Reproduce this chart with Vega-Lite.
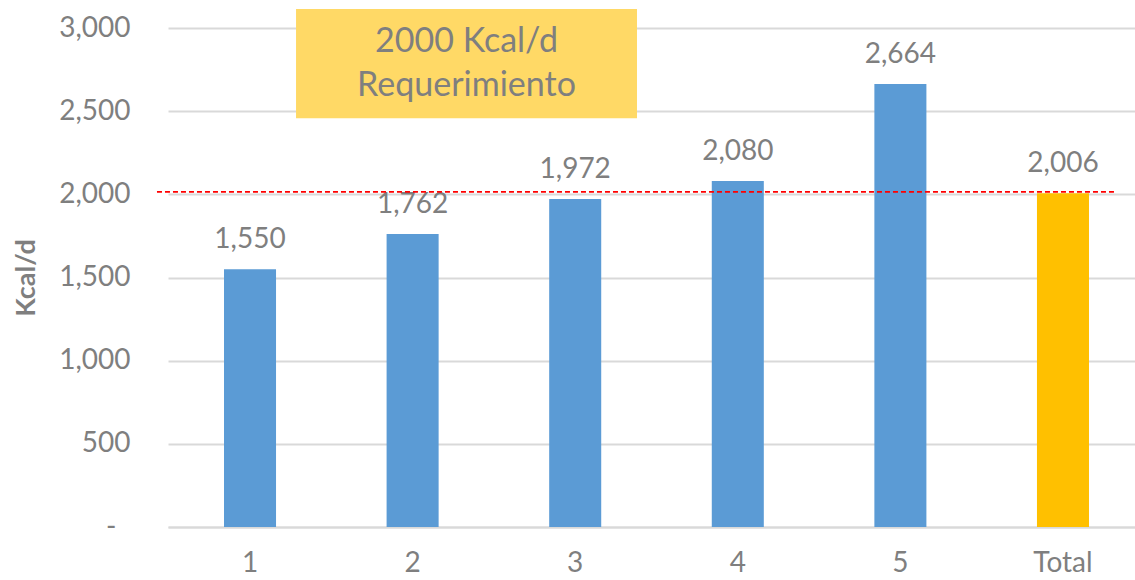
{
  "$schema": "https://vega.github.io/schema/vega-lite/v6.json",
  "autosize": {"type": "none"},
  "width": 967,
  "height": 499,
  "padding": {"left": 168, "top": 28, "right": 0, "bottom": 53},
  "background": "white",
  "config": {
    "view": {"stroke": null},
    "font": "Lato",
    "text": {"font": "Lato"}
  },
  "datasets": {
    "barras": [
      {"dia": "1", "kcal": 1550, "tipo": "Día"},
      {"dia": "2", "kcal": 1762, "tipo": "Día"},
      {"dia": "3", "kcal": 1972, "tipo": "Día"},
      {"dia": "4", "kcal": 2080, "tipo": "Día"},
      {"dia": "5", "kcal": 2664, "tipo": "Día"},
      {"dia": "Total", "kcal": 2006, "tipo": "Total"}
    ],
    "cuadro": [
      {"x": 0.1324, "x2": 0.485, "y": 2457, "y2": 3114, "xt": 0.3087, "yt": 2914, "texto": ["2000 Kcal/d", "Requerimiento"]}
    ],
    "requerimiento": [
      {"x": -0.0114, "x2": 0.979, "kcal": 2015}
    ]
  },
  "layer": [
    {
      "data": {"name": "barras"},
      "encoding": {
        "x": {
          "field": "dia", "type": "nominal", "sort": null,
          "scale": {"paddingInner": 0.68, "paddingOuter": 0.3137, "align": 0.549},
          "axis": {
            "title": null, "labelAngle": 0, "labelFontSize": 28, "labelColor": "#7F7F7F",
            "labelFont": "Lato", "ticks": false, "labelPadding": 22,
            "domainColor": "#D9D9D9", "domainWidth": 2, "grid": false
          }
        },
        "y": {
          "field": "kcal", "type": "quantitative",
          "scale": {"domain": [0, 3000], "nice": false},
          "axis": {
            "title": "Kcal/d", "titleFontSize": 27, "titleFontWeight": "bold", "titleColor": "#7F7F7F",
            "titleFont": "Lato", "titlePadding": 18,
            "values": [0, 500, 1000, 1500, 2000, 2500, 3000],
            "labelExpr": "datum.value == 0 ? '-' : format(datum.value, ',')",
            "labelFontSize": 28, "labelColor": "#7F7F7F", "labelFont": "Lato",
            "labelPadding": {"condition": {"test": "datum.value == 0", "value": 52}, "value": 38},
            "ticks": false, "domain": false, "gridColor": "#D9D9D9", "gridWidth": 2
          }
        }
      },
      "layer": [
        {
          "mark": {"type": "bar"},
          "encoding": {
            "color": {
              "field": "tipo", "type": "nominal", "legend": null,
              "scale": {"domain": ["Día", "Total"], "range": ["#5B9BD5", "#FFC000"]}
            }
          }
        },
        {
          "mark": {"type": "text", "baseline": "alphabetic", "dy": -21, "fontSize": 28, "color": "#7F7F7F", "font": "Lato"},
          "encoding": {"text": {"field": "kcal", "type": "quantitative", "format": ","}}
        }
      ]
    },
    {
      "layer": [
        {
          "data": {"name": "cuadro"},
          "mark": {"type": "rect", "color": "#FFD966"},
          "encoding": {
            "x": {"field": "x", "type": "quantitative", "scale": {"domain": [0, 1], "nice": false, "zero": false}, "axis": null},
            "x2": {"field": "x2"},
            "y": {"field": "y", "type": "quantitative"},
            "y2": {"field": "y2"}
          }
        },
        {
          "data": {"name": "cuadro"},
          "mark": {"type": "text", "fontSize": 34, "color": "#7F7F7F", "font": "Lato", "lineHeight": 44, "baseline": "middle", "align": "center"},
          "encoding": {
            "x": {"field": "xt", "type": "quantitative", "axis": null},
            "y": {"field": "yt", "type": "quantitative"},
            "text": {"field": "texto"}
          }
        },
        {
          "data": {"name": "requerimiento"},
          "mark": {"type": "rule", "color": "#FF0000", "strokeWidth": 1.8, "strokeDash": [5, 3]},
          "encoding": {
            "x": {"field": "x", "type": "quantitative", "axis": null},
            "x2": {"field": "x2"},
            "y": {"field": "kcal", "type": "quantitative"}
          }
        }
      ]
    }
  ],
  "resolve": {"scale": {"x": "independent"}, "axis": {"x": "independent"}}
}
